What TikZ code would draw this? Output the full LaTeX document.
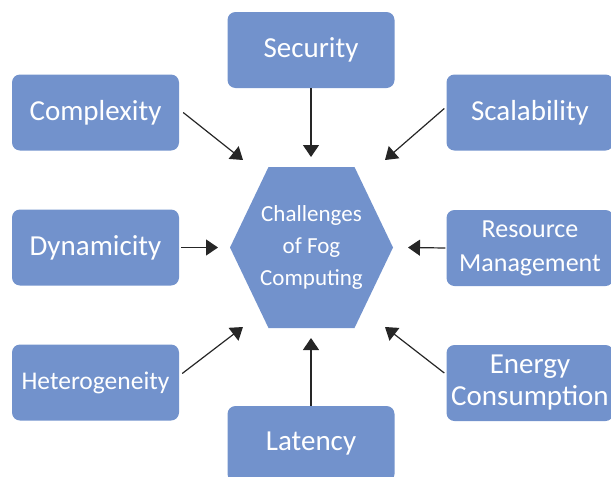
\documentclass[tikz,border=0pt]{standalone}
\usepackage{fontspec}
\setmainfont{Carlito}
\usetikzlibrary{arrows.meta}
\definecolor{fogblue}{HTML}{7292CC}
\definecolor{arrowgray}{HTML}{262626}
\tikzset{
  challenge/.style={fill=fogblue, rounded corners=8pt, minimum width=167pt, minimum height=76pt,
    inner sep=0pt, text=white, align=center, font=\fontsize{29}{33}\selectfont},
  pointer/.style={draw=arrowgray, line width=1.2pt, -{Triangle[length=12pt,width=16pt]}},
}
\begin{document}
\begin{tikzpicture}[x=1pt,y=-1pt]
\useasboundingbox (0,0) rectangle (611,477);
% centre hexagon
\fill[fogblue] (230,247.5) -- (268.5,167) -- (354.5,167) -- (393,247.5) -- (354.5,328) -- (268.5,328) -- cycle;
\node[text=white, align=center, font=\fontsize{23}{32}\selectfont] (hub) at (311.5,247.5) {Challenges\\of Fog\\Computing};
% challenge boxes
\node[challenge] (security) at (311,50) {Security};
\node[challenge] (complexity) at (95.5,112.5) {Complexity};
\node[challenge] (scalability) at (530,112.5) {Scalability};
\node[challenge] (dynamicity) at (95.5,247.5) {Dynamicity};
\node[challenge, font=\fontsize{26}{34}\selectfont] (resource) at (530,248) {Resource\\Management};
\node[challenge, font=\fontsize{25.5}{30}\selectfont] (hetero) at (95.5,382.5) {Heterogeneity};
\node[challenge, font=\fontsize{29}{32}\selectfont] (energy) at (530,383) {Energy\\Consumption};
\node[challenge] (latency) at (311,444) {Latency};
% arrow ends near the hexagon
\coordinate (secEnd) at (311,157);
\coordinate (latEnd) at (311,338);
\coordinate (dynEnd) at (218,247.5);
\coordinate (resEnd) at (408,247.5);
\coordinate (cxEnd) at (243,160);
\coordinate (scEnd) at (385,160);
\coordinate (hetEnd) at (243,327);
\coordinate (enEnd) at (385,327);
% arrows
\draw[pointer] (security.south) -- (secEnd);
\draw[pointer] (latency.north) -- (latEnd);
\draw[pointer] ([xshift=2pt]dynamicity.east) -- (dynEnd);
\draw[pointer] ([xshift=-1pt]resource.west) -- (resEnd);
\draw[pointer] ([xshift=4pt]complexity.east) -- (cxEnd);
\draw[pointer] ([shift={(-2pt,4pt)}]scalability.west) -- (scEnd);
\draw[pointer] ([shift={(3pt,9pt)}]hetero.east) -- (hetEnd);
\draw[pointer] ([shift={(-2pt,10pt)}]energy.west) -- (enEnd);
\end{tikzpicture}
\end{document}
